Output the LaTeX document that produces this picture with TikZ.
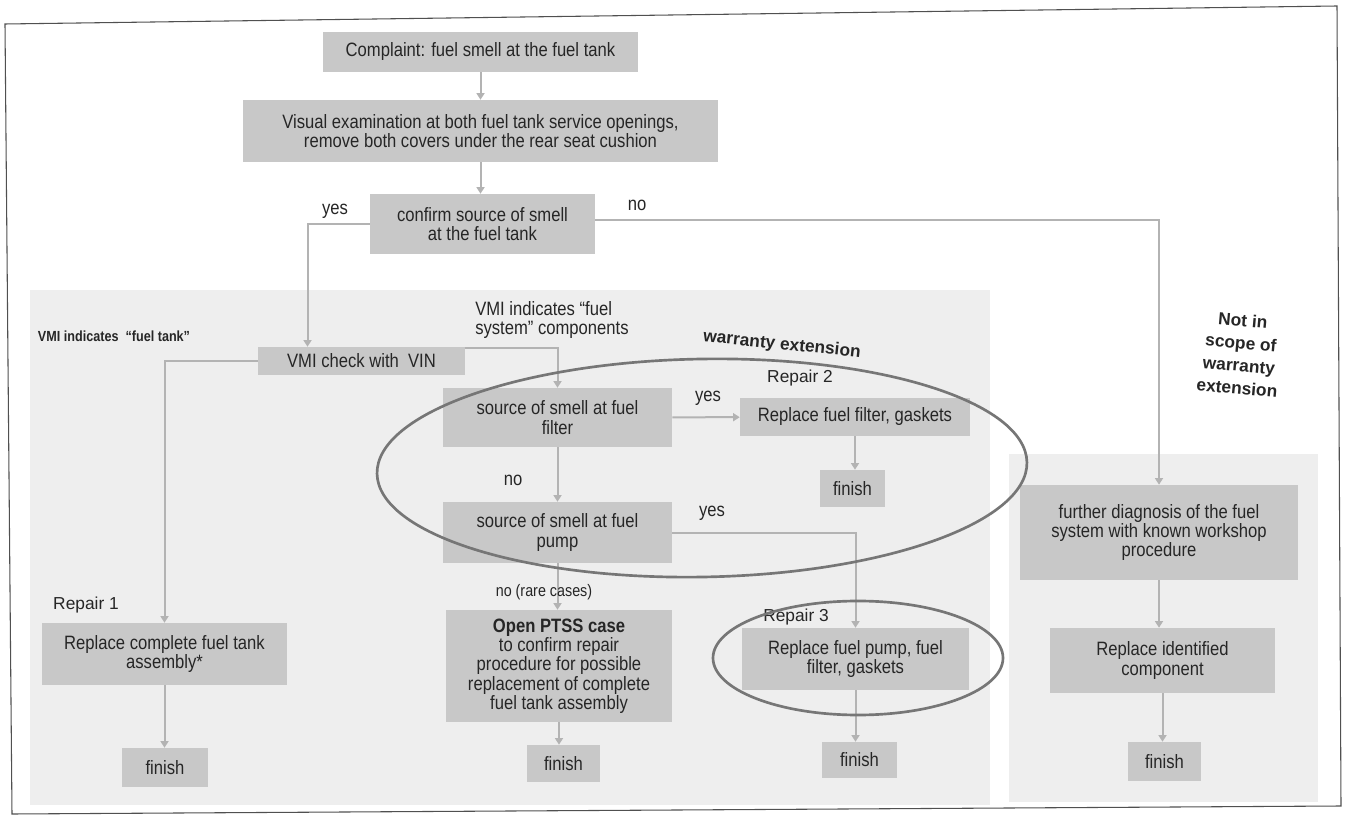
\documentclass[tikz,border=0pt]{standalone}
\usepackage{fontspec}
\setmainfont{Liberation Sans}[FakeStretch=0.86]
\newfontfamily\plainsans{Liberation Sans}
\usetikzlibrary{arrows.meta}
\definecolor{boxgray}{HTML}{C8C8C8}
\definecolor{panelgray}{HTML}{EEEEEE}
\definecolor{linegray}{HTML}{B3B3B3}
\definecolor{txt}{HTML}{262626}
\definecolor{ringgray}{HTML}{767676}
\definecolor{framegray}{HTML}{505050}
\begin{document}
\begin{tikzpicture}[x=0.75pt,y=-0.75pt,
  box/.style={fill=boxgray, inner sep=0pt, align=center, text=txt, font=\fontsize{14.5}{14.5}\selectfont},
  bw/.style={minimum width=#1*0.75pt},
  bh/.style={minimum height=#1*0.75pt},
  conn/.style={draw=linegray, line width=1.5pt},
  arr/.style={conn, -{Triangle[width=6pt,length=5pt]}},
  lbl/.style={text=txt, inner sep=0pt, font=\fontsize{14.5}{14.5}\selectfont},
  plbl/.style={text=txt, inner sep=0pt, font=\plainsans\fontsize{13}{15}\selectfont},
  ring/.style={draw=ringgray, line width=2pt}]
\useasboundingbox (0,0) rectangle (1347,827);
\fill[white] (0,0) rectangle (1347,827);
% frame
\draw[framegray, line width=0.8pt] (5,24) -- (1337,6) -- (1341,806) -- (12,814) -- cycle;
% panels
\fill[panelgray] (30,290) rectangle (990,805);
\fill[panelgray] (1009,454) rectangle (1318,802);
% boxes
\node[box, bw=315, bh=40] (cmp) at (480.5,52) {Complaint: fuel smell at the fuel tank};
\node[box, bw=475, bh=62] (vis) at (480.5,131) {Visual examination at both fuel tank service openings,\\ remove both covers under the rear seat cushion};
\node[box, bw=225, bh=60] (cnf) at (482.5,224) {confirm source of smell\\ at the fuel tank};
\node[box, bw=207, bh=28] (vmi) at (361.5,361) {VMI check with\ \ VIN};
\node[box, bw=229, bh=59] (flt) at (557.5,417.5) {source of smell at fuel\\ filter};
\node[box, bw=230, bh=38] (rfl) at (855,417) {Replace fuel filter, gaskets};
\node[box, bw=65, bh=37] (fin2) at (852.5,488.5) {finish};
\node[box, bw=229, bh=61] (pmp) at (557.5,532.5) {source of smell at fuel\\ pump};
\node[box, bw=226, bh=112] (pts) at (559,666) {\textbf{Open PTSS case}\\ to confirm repair\\ procedure for possible\\ replacement of complete\\ fuel tank assembly};
\node[box, bw=73, bh=37] (fin3) at (563.5,763.5) {finish};
\node[box, bw=227, bh=62] (rpm) at (855.5,659) {Replace fuel pump, fuel\\ filter, gaskets};
\node[box, bw=75, bh=36] (fin4) at (859.5,760) {finish};
\node[box, bw=245, bh=62] (tnk) at (164.5,654) {Replace complete fuel tank\\ assembly*};
\node[box, bw=86, bh=39] (fin1) at (165,767.5) {finish};
\node[box, bw=278, bh=95] (fur) at (1159,532.5) {further diagnosis of the fuel\\ system with known workshop\\ procedure};
\node[box, bw=225, bh=65] (rid) at (1162.5,660.5) {Replace identified\\ component};
\node[box, bw=73, bh=39] (fin5) at (1164.5,761.5) {finish};
% connectors
\draw[arr] (cmp) -- (vis);
\draw[arr] (vis.south) -- (vis.south |- cnf.north);
\draw[arr] (cnf.west) -| ([xshift=-40.5pt]vmi.north);
\draw[arr] ([yshift=3pt]cnf.east) -| (fur.north);
\draw[arr] (vmi.west) -| (tnk.north);
\draw[arr] ([yshift=9.75pt]vmi.east) -| (flt.north);
\draw[arr] (flt) -- (rfl);
\draw[arr] (rfl.south) -- (rfl.south |- fin2.north);
\draw[arr] (flt) -- (pmp);
\draw[arr] (pmp.east) -| (rpm.north);
\draw[arr] (rpm.south) -- (rpm.south |- fin4.north);
\draw[arr] (pmp.south) -- (pmp.south |- pts.north);
\draw[arr] (pts.south) -- (pts.south |- fin3.north);
\draw[arr] (tnk) -- (tnk.south |- fin1.north);
\draw[arr] (fur.south) -- (fur.south |- rid.north);
\draw[arr] (rid.south) -- (rid.south |- fin5.north);
% labels
\node[lbl] (lyes1) at (335,211) {yes};
\node[lbl] (lno1) at (637,205) {no};
\node[lbl, font=\fontsize{11}{13}\selectfont\bfseries] (lvmi1) at (114,336) {VMI indicates\ \ “fuel tank”};
\node[lbl, anchor=west, align=left] (lvmi2) at (475,320) {VMI indicates “fuel\\ system” components};
\node[plbl, font=\plainsans\bfseries\fontsize{13}{15}\selectfont, rotate=-6] (lwar) at (782,345) {warranty extension};
\node[plbl] (lr2) at (800,378) {Repair 2};
\node[lbl] (lyes2) at (708,398) {yes};
\node[lbl] (lno2) at (513,480) {no};
\node[lbl] (lyes3) at (712,513) {yes};
\node[lbl, font=\fontsize{12.5}{14}\selectfont] (lrare) at (544,592) {no (rare cases)};
\node[plbl] (lr1) at (86,605) {Repair 1};
\node[plbl, anchor=west] (lr3) at (763,617) {Repair 3};
\node[plbl, font=\plainsans\bfseries\fontsize{13}{17}\selectfont, align=center, rotate=-5] (lnot) at (1240,354) {Not in\\ scope of\\ warranty\\ extension};
% rings
\draw[ring] (702,468) ellipse [x radius=325, y radius=109, rotate=1];
\draw[ring] (858,658) ellipse [x radius=145, y radius=57];
\end{tikzpicture}
\end{document}
